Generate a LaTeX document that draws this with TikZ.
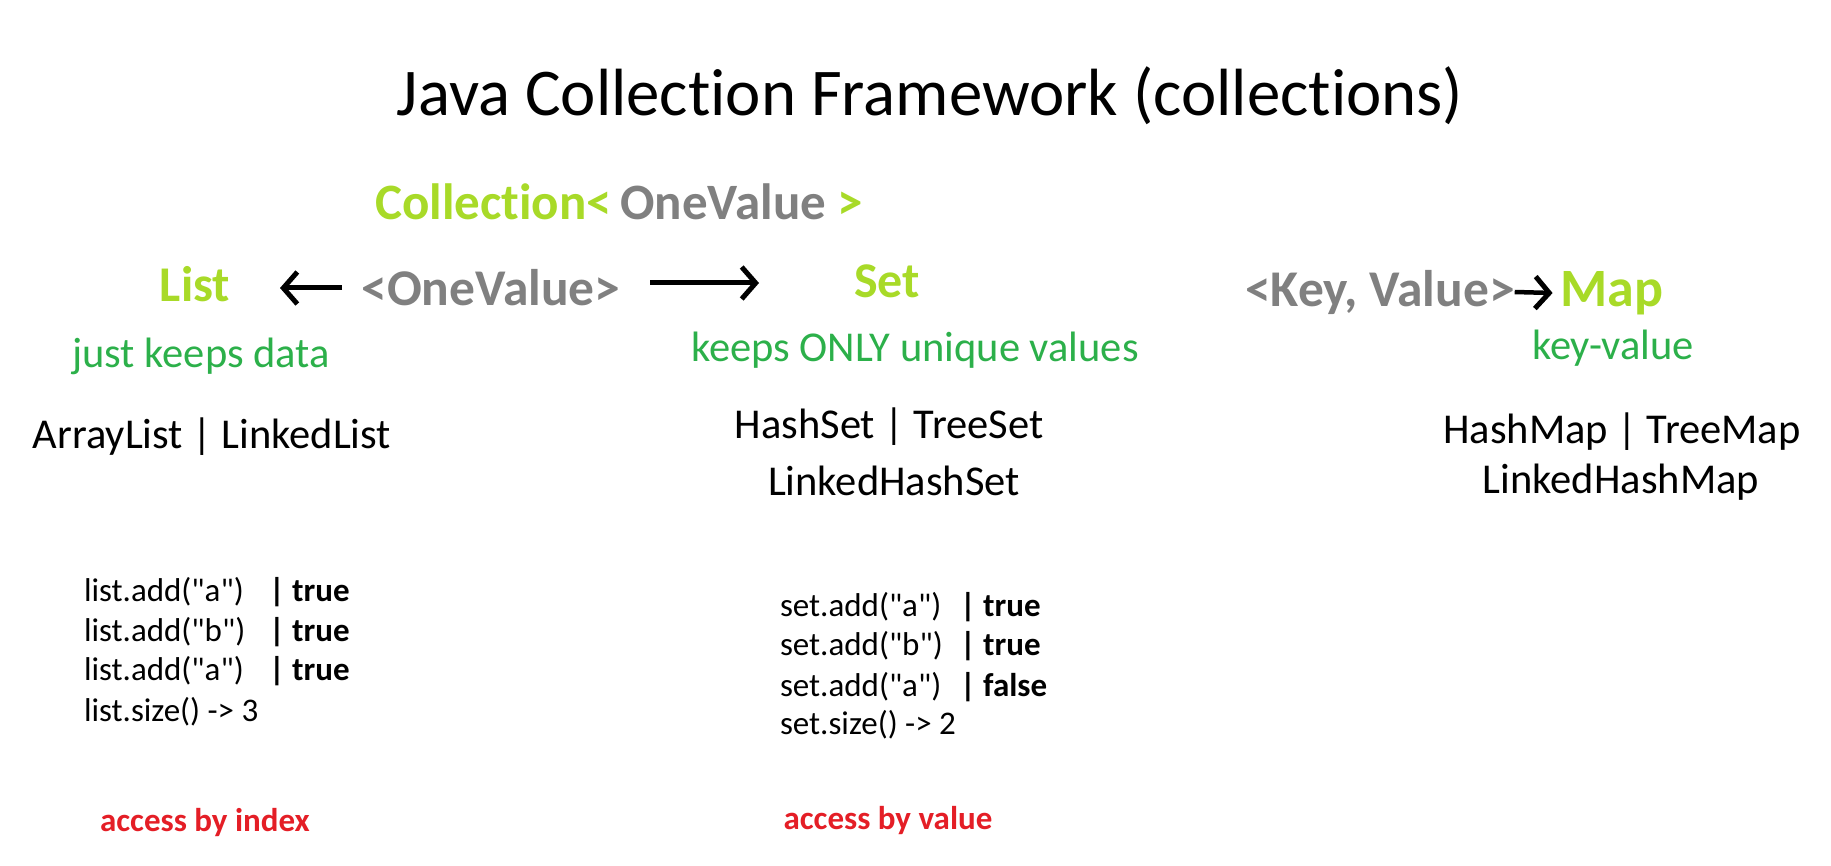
\documentclass[tikz,border=0pt]{standalone}
\usepackage{fontspec}
\setmainfont{Carlito}[Ligatures={TeXOff,NoCommon}]
\usetikzlibrary{arrows.meta}
\definecolor{lime}{RGB}{168,218,40}
\definecolor{ggray}{RGB}{128,128,128}
\definecolor{tgreen}{RGB}{44,176,74}
\definecolor{tred}{RGB}{228,30,38}
\tikzset{
  txt/.style={inner sep=0pt, outer sep=0pt},
  title/.style={txt, font=\fontsize{66.8}{72}\selectfont},
  head/.style={txt, font=\fontsize{50}{56}\selectfont\bfseries, text=lime},
  gen/.style={txt, font=\fontsize{51.5}{56}\selectfont\bfseries, text=ggray},
  desc/.style={txt, font=\fontsize{42.5}{48}\selectfont, text=tgreen},
  impl/.style={txt, font=\fontsize{42.5}{48}\selectfont},
  code/.style={txt, anchor=west, font=\fontsize{33}{38}\selectfont},
  res/.style={txt, anchor=west, font=\fontsize{33}{38}\selectfont\bfseries},
  acc/.style={txt, font=\fontsize{33}{38}\selectfont\bfseries, text=tred},
  harrow/.style={line width=5pt, -{Straight Barb[length=14pt,width=32pt,line width=5pt]}}
}
\begin{document}
\begin{tikzpicture}[x=1pt,y=-1pt]
\useasboundingbox (0,0) rectangle (1831,866);
\node[title] (t) at (930,96) {Java Collection Framework (collections)};
\node[txt, font=\fontsize{51}{56}\selectfont\bfseries] (coll) at (619,202) {\textcolor{lime}{Collection<}\,\textcolor{ggray}{OneValue}\textcolor{lime}{\ >}};
\node[head] (list) at (195,284) {List};
\node[gen] (one) at (491,288) {<OneValue>};
\node[head] (set) at (887,281) {Set};
\node[gen] (kv) at (1380,292) {<Key, Value>};
\node[head, font=\fontsize{54}{60}\selectfont\bfseries] (map) at (1612,293) {Map};
\coordinate (la) at (342,288);
\coordinate (lb) at (280,288);
\draw[harrow] (la) -- (lb);
\coordinate (ra) at (650,283);
\coordinate (rb) at (759,283);
\draw[harrow] (ra) -- (rb);
\draw[harrow, line width=4.5pt] (kv.east) -- ([xshift=-8pt]map.west);
\node[desc] (d1) at (201,356) {just keeps data};
\node[desc] (d2) at (915,350) {keeps ONLY unique values};
\node[desc] (d3) at (1613,348) {key-value};
\node[impl] (i1) at (212,437) {ArrayList | LinkedList};
\node[impl] (i2) at (889,427) {HashSet | TreeSet};
\node[impl] (i3) at (894,481) {LinkedHashSet};
\node[impl] (i4) at (1622,432) {HashMap | TreeMap};
\node[impl] (i5) at (1621,482) {LinkedHashMap};
\node[code] (l1) at (84,592) {list.add("a")};
\node[code] (l2) at (84,632) {list.add("b")};
\node[code] (l3) at (84,671) {list.add("a")};
\node[code] (l4) at (84,712) {list.size() -> 3};
\node[res] (r1) at (269,592) {| true};
\node[res] (r2) at (269,632) {| true};
\node[res] (r3) at (269,671) {| true};
\node[code] (s1) at (780,607) {set.add("a")};
\node[code] (s2) at (780,646) {set.add("b")};
\node[code] (s3) at (780,687) {set.add("a")};
\node[code] (s4) at (780,725) {set.size() -> 2};
\node[res] (q1) at (960,607) {| true};
\node[res] (q2) at (960,646) {| true};
\node[res] (q3) at (960,687) {| false};
\node[acc] (a1) at (205,823) {access by index};
\node[acc] (a2) at (888,821) {access by value};
\end{tikzpicture}
\end{document}
